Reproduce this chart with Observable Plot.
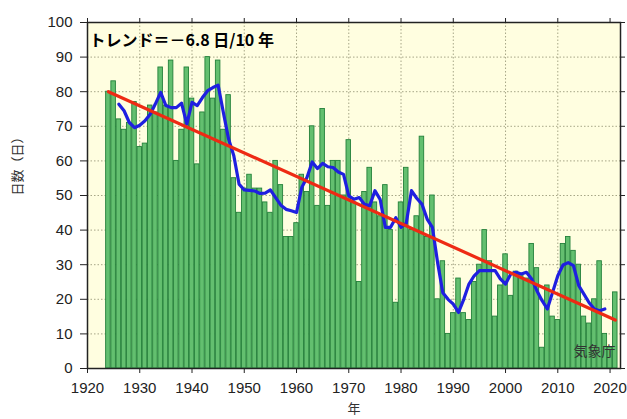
<!DOCTYPE html>
<html><head><meta charset="utf-8">
<script src="https://cdn.jsdelivr.net/npm/d3@7"></script>
<script src="https://cdn.jsdelivr.net/npm/@observablehq/plot@0.6"></script>
<style>html,body{margin:0;padding:0;background:#fff;overflow:hidden}</style>
</head><body><div id="chart"></div>
<script>
const firstYear = 1924;
const barValues = [
  80, 83, 72, 69, 71, 77, 64, 65, 76, 74, 87, 76, 89, 60, 69, 87, 78, 59, 74, 90, 78, 89, 69, 79, 55,
  45, 52, 56, 52, 52, 48, 45, 60, 53, 38, 38, 42, 56, 51, 70, 47, 75, 47, 60, 60, 50, 66, 48, 25, 51,
  58, 48, 44, 53, 40, 19, 48, 58, 40, 44, 67, 38, 50, 20, 31, 10, 16, 26, 16, 14, 25, 30, 40, 31, 15,
  24, 33, 21, 28, 27, 26, 36, 29, 6, 24, 15, 14, 36, 38, 34, 30, 15, 13, 20, 31, 10, 6, 22
];
const maFirstYear = 1926;
const maValues = [
  76.4, 74.5, 71.1, 69.6, 70.3, 71.6, 73.5, 76.5, 79.8, 76,
  75.4, 75.4, 76.7, 70.6, 76.9, 76, 78.3, 80.3, 81.2, 81.9,
  74, 66.3, 61.5, 53.3, 51.6, 51.5, 51.3, 50.6, 50.7, 51.6,
  49.4, 47.2, 46, 45.6, 45.1, 52.3, 55.2, 59.7, 57.8, 59.3,
  58.3, 58.1, 56.8, 56.1, 49.9, 48.9, 49.4, 47.5, 47, 51.4,
  48.9, 40.8, 40.8, 43.6, 40.8, 42, 51.4, 49.2, 47.5, 43.2,
  40.8, 30.6, 21.9, 20, 18.6, 16.2, 20, 24.4, 26.8, 28.3,
  28.3, 28.3, 28.3, 25.9, 24.4, 27.3, 27.8, 27.3, 27.8, 25.9,
  22.5, 19.6, 17.2, 22, 26.8, 29.9, 30.6, 29.7, 24, 21.5,
  19, 17.2, 16.7, 17.2
];
const trendYears = [1924, 2021];
const trendValues = [80, 14];
const xTicks = [1920, 1930, 1940, 1950, 1960, 1970, 1980, 1990, 2000, 2010, 2020];
const yTicks = [0, 10, 20, 30, 40, 50, 60, 70, 80, 90, 100];
const trendLabel = "トレンド＝－6.8 日/10 年";
const sourceLabel = "気象庁";
const xLabel = "年";
const yLabel = "日数（日）";

const bars = barValues.map((v, i) => ({year: firstYear + i, value: v}));
const ma = maValues.map((v, i) => ({year: maFirstYear + i, value: v}));
const trend = trendYears.map((y, i) => ({year: y, value: trendValues[i]}));
const inner = (arr) => arr.slice(1, -1);
const cjk = "'Noto Sans CJK JP', 'Noto Sans', sans-serif";

const chart = Plot.plot({
  width: 627, height: 419,
  marginLeft: 87, marginRight: 7, marginTop: 22, marginBottom: 51,
  x: {domain: [1920, 2022]},
  y: {domain: [0, 100]},
  style: {fontFamily: "'Liberation Sans', Arial, sans-serif", fontSize: "15px", color: "#222", background: "#fff"},
  marks: [
    Plot.frame({fill: "#fffee0", stroke: null}),
    Plot.gridX({ticks: inner(xTicks), stroke: "#8a8a6a", strokeOpacity: 0.75, strokeDasharray: "1.5,2"}),
    Plot.gridY({ticks: inner(yTicks), stroke: "#8a8a6a", strokeOpacity: 0.75, strokeDasharray: "1.5,2"}),
    Plot.rectY(bars, {x1: d => d.year - 0.5, x2: d => d.year + 0.5, y: "value",
      fill: "#63bf6f", stroke: "#23803a", strokeWidth: 0.9, insetLeft: 0.35, insetRight: 0.35}),
    Plot.line(ma, {x: "year", y: "value", stroke: "#1f1fe0", strokeWidth: 3.2, strokeLinejoin: "round"}),
    Plot.line(trend, {x: "year", y: "value", stroke: "#ee2a14", strokeWidth: 3.2}),
    Plot.frame({stroke: "#222", strokeWidth: 1.5}),
    Plot.axisX({ticks: xTicks, tickSize: 5, tickPadding: 9, label: null, tickFormat: d => String(d), stroke: "#222"}),
    Plot.axisX({anchor: "top", ticks: xTicks, tickSize: 5, tickFormat: () => "", label: null, stroke: "#222"}),
    Plot.axisY({ticks: yTicks, tickSize: 7, tickPadding: 8, label: null, stroke: "#222"}),
    Plot.axisY({anchor: "right", ticks: yTicks, tickSize: 4, tickFormat: () => "", label: null, stroke: "#222"}),
    Plot.text([trendLabel], {frameAnchor: "top-left", dx: 2, dy: 18, textAnchor: "start", lineAnchor: "middle",
      fontFamily: cjk, fontWeight: "bold", fontSize: 16, fill: "#000"}),
    Plot.text([sourceLabel], {frameAnchor: "bottom-right", dx: -5, dy: -17, textAnchor: "end", lineAnchor: "middle",
      fontFamily: cjk, fontSize: 14, fill: "#333"}),
    Plot.text([xLabel], {frameAnchor: "bottom", dy: 40, lineAnchor: "middle", fontFamily: cjk, fontSize: 13, fill: "#333"}),
    Plot.text([yLabel], {frameAnchor: "left", dx: -70, rotate: -90, lineAnchor: "middle", fontFamily: cjk, fontSize: 13, fill: "#333"})
  ]
});
document.getElementById("chart").appendChild(chart);
</script>
</body></html>
